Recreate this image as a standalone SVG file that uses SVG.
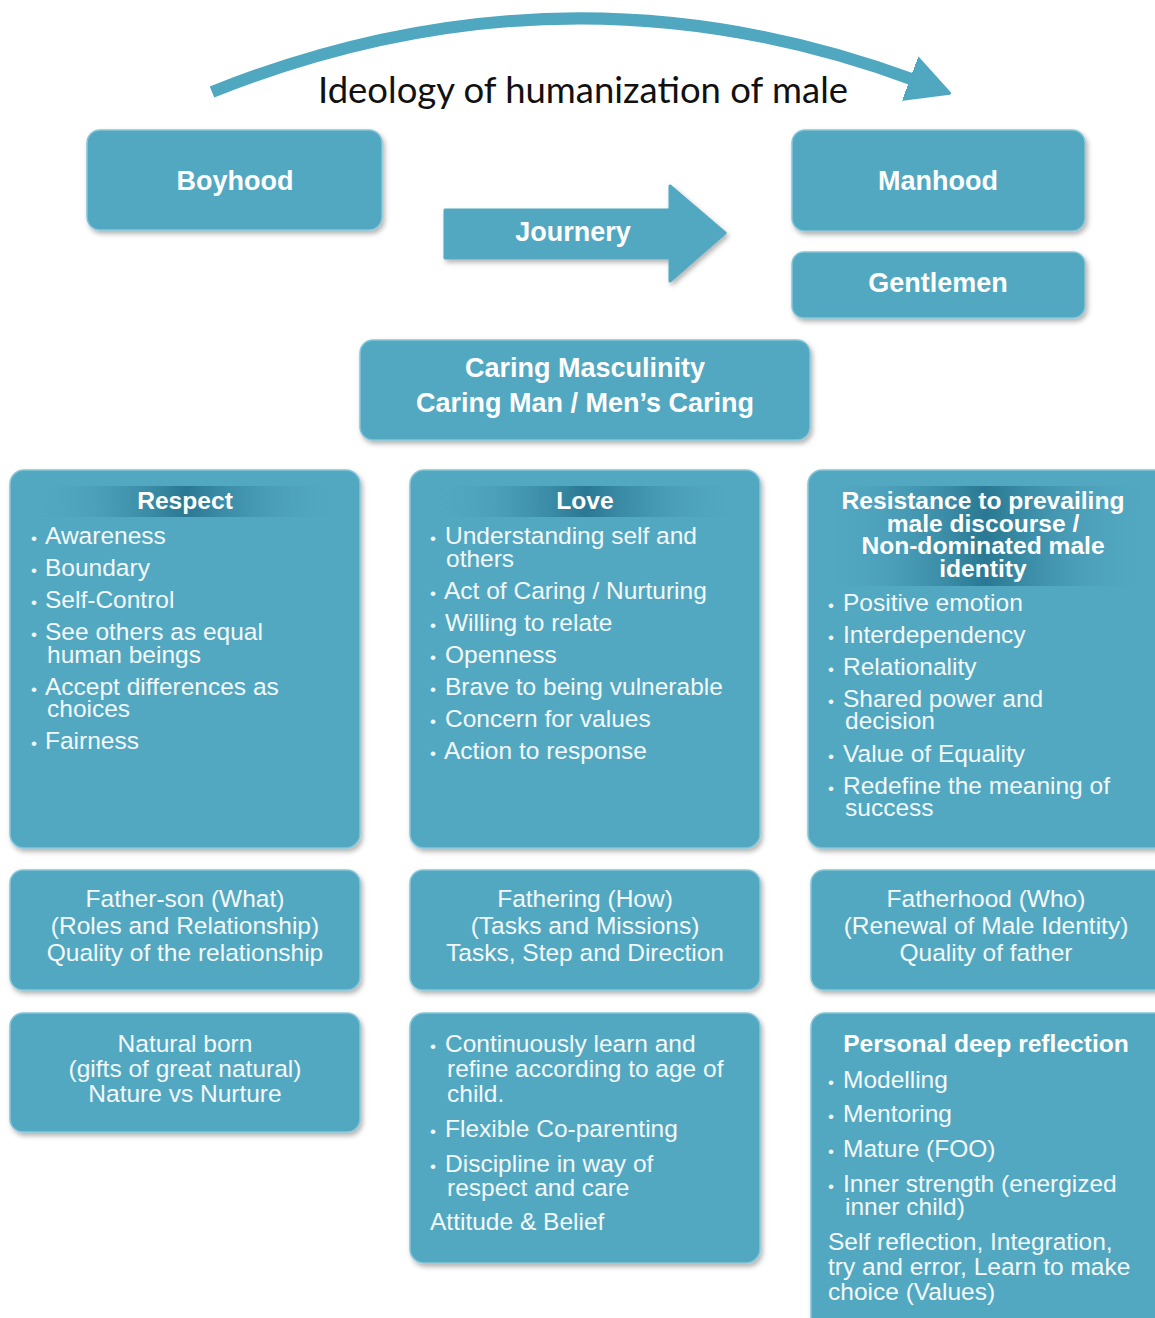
<svg xmlns="http://www.w3.org/2000/svg" width="1155" height="1318" viewBox="0 0 1155 1318">
<style>
.box{fill:#52a8c1;stroke:#86c6d8;stroke-width:1.5;filter:url(#sh)}
.hb{font-family:"Liberation Sans",Arial,sans-serif;font-weight:bold;font-size:27px;fill:#ffffff;text-anchor:middle}
.h{font-family:"Liberation Sans",Arial,sans-serif;font-weight:bold;font-size:24.6px;fill:#ffffff;text-anchor:middle}
.t{font-family:"Liberation Sans",Arial,sans-serif;font-size:24.5px;fill:#f3f9fb}
.c{text-anchor:middle}
.bl{font-family:"Liberation Sans",Arial,sans-serif;font-size:17px;fill:#f3f9fb}
.band{fill:url(#bandg)}
.title{font-family:Lato,"Open Sans",sans-serif;font-size:36px;fill:#111111}
</style>
<defs>
<filter id="sh" x="-10%" y="-10%" width="125%" height="130%">
<feDropShadow dx="2" dy="3" stdDeviation="2.5" flood-color="#000" flood-opacity="0.3"/>
</filter>
<linearGradient id="bandg" x1="0" y1="0" x2="1" y2="0">
<stop offset="0" stop-color="#52a8c1" stop-opacity="0"/>
<stop offset="0.5" stop-color="#2a7893"/>
<stop offset="1" stop-color="#52a8c1" stop-opacity="0"/>
</linearGradient>
<marker id="ah" markerUnits="userSpaceOnUse" markerWidth="48" markerHeight="54" refX="4" refY="24" orient="auto" viewBox="0 0 48 48">
<path d="M0,2 L42,24 L0,46 Z" fill="#4fa7c0" stroke="#4fa7c0" stroke-width="3" stroke-linejoin="round"/>
</marker>
</defs>
<rect width="1155" height="1318" fill="#ffffff"/>

<g id="connectors">
<path d="M212,92 Q565,-49 914,80" fill="none" stroke="#4fa7c0" stroke-width="12" marker-end="url(#ah)"/>
</g>

<g id="title">
<text class="title" x="318" y="103" textLength="530" lengthAdjust="spacingAndGlyphs">Ideology of humanization of male</text>
</g>

<g id="boyhood">
<rect class="box" x="87" y="130" width="295" height="100" rx="13"/>
<text class="hb" x="235" y="190">Boyhood</text>
</g>

<g id="journey">
<path d="M445,210 L670,210 L670,186 L725,233 L670,281 L670,258 L445,258 Z" fill="#52a8c1" stroke="#52a8c1" stroke-width="3" stroke-linejoin="round" filter="url(#sh)"/>
<text class="hb" x="573" y="241">Journery</text>
</g>

<g id="manhood">
<rect class="box" x="792" y="130" width="293" height="101" rx="13"/>
<text class="hb" x="938" y="190">Manhood</text>
</g>

<g id="gentlemen">
<rect class="box" x="792" y="252" width="293" height="66" rx="12"/>
<text class="hb" x="938" y="292">Gentlemen</text>
</g>

<g id="caring">
<rect class="box" x="360" y="340" width="450" height="100" rx="13"/>
<text class="hb" x="585" y="377">Caring Masculinity</text>
<text class="hb" x="585" y="412">Caring Man / Men’s Caring</text>
</g>

<g id="respect">
<rect class="box" x="10" y="470" width="350" height="378" rx="14"/>
<rect class="band" x="28" y="486" width="316" height="31"/>
<text class="h" x="185" y="509">Respect</text>
<g class="bl"><text x="31" y="544">•</text><text x="31" y="576">•</text><text x="31" y="608">•</text><text x="31" y="640">•</text><text x="31" y="695">•</text><text x="31" y="749">•</text></g>
<text class="t" x="45" y="544">Awareness</text>
<text class="t" x="45" y="576">Boundary</text>
<text class="t" x="45" y="608">Self-Control</text>
<text class="t" x="45" y="640">See others as equal</text>
<text class="t" x="47" y="663">human beings</text>
<text class="t" x="45" y="695">Accept differences as</text>
<text class="t" x="47" y="717">choices</text>
<text class="t" x="45" y="749">Fairness</text>
</g>

<g id="love">
<rect class="box" x="410" y="470" width="350" height="378" rx="14"/>
<rect class="band" x="428" y="486" width="316" height="31"/>
<text class="h" x="585" y="509">Love</text>
<g class="bl"><text x="430" y="544">•</text><text x="430" y="599">•</text><text x="430" y="631">•</text><text x="430" y="663">•</text><text x="430" y="695">•</text><text x="430" y="727">•</text><text x="430" y="759">•</text></g>
<text class="t" x="445" y="544">Understanding self and</text>
<text class="t" x="446" y="567">others</text>
<text class="t" x="444" y="599">Act of Caring / Nurturing</text>
<text class="t" x="445" y="631">Willing to relate</text>
<text class="t" x="445" y="663">Openness</text>
<text class="t" x="445" y="695">Brave to being vulnerable</text>
<text class="t" x="445" y="727">Concern for values</text>
<text class="t" x="444" y="759">Action to response</text>
</g>

<g id="resistance">
<rect class="box" x="808" y="470" width="362" height="378" rx="14"/>
<rect class="band" x="816" y="486" width="339" height="100"/>
<text class="h" x="983" y="509">Resistance to prevailing</text>
<text class="h" x="983" y="532">male discourse /</text>
<text class="h" x="983" y="554">Non-dominated male</text>
<text class="h" x="983" y="577">identity</text>
<g class="bl"><text x="828" y="611">•</text><text x="828" y="643">•</text><text x="828" y="675">•</text><text x="828" y="707">•</text><text x="828" y="762">•</text><text x="828" y="794">•</text></g>
<text class="t" x="843" y="611">Positive emotion</text>
<text class="t" x="843" y="643">Interdependency</text>
<text class="t" x="843" y="675">Relationality</text>
<text class="t" x="843" y="707">Shared power and</text>
<text class="t" x="845" y="729">decision</text>
<text class="t" x="843" y="762">Value of Equality</text>
<text class="t" x="843" y="794">Redefine the meaning of</text>
<text class="t" x="845" y="816">success</text>
</g>

<g id="father-son">
<rect class="box" x="10" y="870" width="350" height="120" rx="13"/>
<text class="t c" x="185" y="907">Father-son (What)</text>
<text class="t c" x="185" y="934">(Roles and Relationship)</text>
<text class="t c" x="185" y="961">Quality of the relationship</text>
</g>

<g id="fathering">
<rect class="box" x="410" y="870" width="350" height="120" rx="13"/>
<text class="t c" x="585" y="907">Fathering (How)</text>
<text class="t c" x="585" y="934">(Tasks and Missions)</text>
<text class="t c" x="585" y="961">Tasks, Step and Direction</text>
</g>

<g id="fatherhood">
<rect class="box" x="811" y="870" width="359" height="120" rx="13"/>
<text class="t c" x="986" y="907">Fatherhood (Who)</text>
<text class="t c" x="986" y="934">(Renewal of Male Identity)</text>
<text class="t c" x="986" y="961">Quality of father</text>
</g>

<g id="natural-born">
<rect class="box" x="10" y="1013" width="350" height="119" rx="13"/>
<text class="t c" x="185" y="1052">Natural born</text>
<text class="t c" x="185" y="1077">(gifts of great natural)</text>
<text class="t c" x="185" y="1102">Nature vs Nurture</text>
</g>

<g id="attitude-belief">
<rect class="box" x="410" y="1013" width="350" height="250" rx="14"/>
<g class="bl"><text x="430" y="1052">•</text><text x="430" y="1137">•</text><text x="430" y="1172">•</text></g>
<text class="t" x="445" y="1052">Continuously learn and</text>
<text class="t" x="447" y="1077">refine according to age of</text>
<text class="t" x="447" y="1102">child.</text>
<text class="t" x="445" y="1137">Flexible Co-parenting</text>
<text class="t" x="445" y="1172">Discipline in way of</text>
<text class="t" x="447" y="1196">respect and care</text>
<text class="t" x="430" y="1230">Attitude &amp; Belief</text>
</g>

<g id="personal-reflection">
<rect class="box" x="811" y="1013" width="359" height="330" rx="14"/>
<text class="h" x="986" y="1052">Personal deep reflection</text>
<g class="bl"><text x="828" y="1088">•</text><text x="828" y="1122">•</text><text x="828" y="1157">•</text><text x="828" y="1192">•</text></g>
<text class="t" x="843" y="1088">Modelling</text>
<text class="t" x="843" y="1122">Mentoring</text>
<text class="t" x="843" y="1157">Mature (FOO)</text>
<text class="t" x="843" y="1192">Inner strength (energized</text>
<text class="t" x="845" y="1215">inner child)</text>
<text class="t" x="828" y="1250">Self reflection, Integration,</text>
<text class="t" x="828" y="1275">try and error, Learn to make</text>
<text class="t" x="828" y="1300">choice (Values)</text>
</g>
</svg>
